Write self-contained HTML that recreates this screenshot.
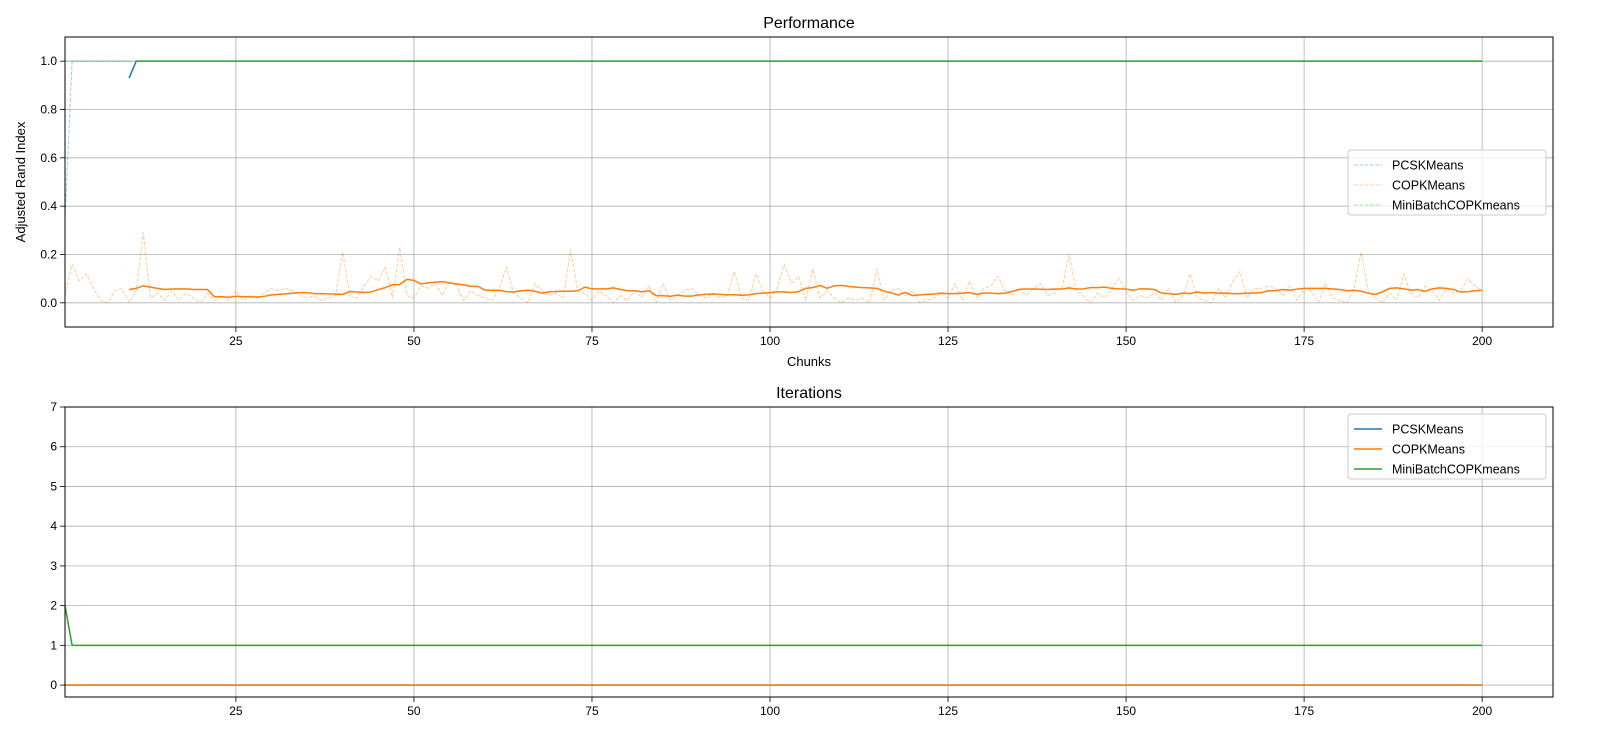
<!DOCTYPE html>
<html><head><meta charset="utf-8">
<style>
html,body{margin:0;padding:0;background:#fff;}
svg{display:block;font-family:"Liberation Sans","DejaVu Sans",sans-serif;}
</style></head>
<body>
<svg id="fig" width="1600" height="750" viewBox="0 0 1600 750"></svg>
<script>
// ---- data ----
const chunks = Array.from({length:200},(_,i)=>i+1);
const pcskRaw = [0.35,1,1,1,1,1,1,1,1,1];
const pcskSmoothX = [10,11];
const pcskSmooth = [0.93,1.0];
const copkRaw = [0.03,0.16,0.09,0.12,0.06,0.01,0.0,0.05,0.06,0.0,0.05,0.29,0.02,0.04,0.01,0.05,0.01,0.04,0.02,0.0,
0.04,0.01,0.03,0.01,0.05,0.01,0.03,0.02,0.04,0.06,0.05,0.06,0.05,0.03,0.02,0.03,0.01,0.02,0.03,0.21,
0.03,0.02,0.07,0.11,0.09,0.15,0.02,0.23,0.03,0.02,0.07,0.06,0.08,0.03,0.09,0.07,0.01,0.05,0.03,0.02,
0.01,0.06,0.15,0.04,0.02,0.0,0.08,0.05,0.03,0.04,0.02,0.22,0.05,0.04,0.01,0.05,0.03,0.0,0.03,0.01,
0.05,0.02,0.07,0.0,0.08,0.01,0.03,0.05,0.06,0.03,0.02,0.04,0.02,0.03,0.13,0.02,0.01,0.12,0.05,0.02,
0.06,0.16,0.08,0.11,0.01,0.14,0.02,0.05,0.02,0.0,0.02,0.01,0.02,0.0,0.14,0.01,0.05,0.06,0.03,0.05,
0.0,0.01,0.02,0.04,0.02,0.08,0.01,0.09,0.02,0.06,0.07,0.11,0.05,0.03,0.06,0.03,0.06,0.08,0.03,0.04,
0.06,0.2,0.05,0.03,0.0,0.04,0.02,0.06,0.1,0.05,0.01,0.03,0.02,0.04,0.01,0.06,0.0,0.03,0.12,0.02,
0.01,0.0,0.06,0.02,0.09,0.13,0.02,0.06,0.06,0.07,0.06,0.03,0.07,0.01,0.06,0.05,0.0,0.08,0.02,0.01,
0.0,0.06,0.21,0.05,0.02,0.0,0.04,0.01,0.12,0.04,0.02,0.07,0.05,0.01,0.06,0.04,0.05,0.1,0.07,0.05];
const copkSmoothStart = 10;
const copkSmooth = [0.055,0.06,0.07,0.065,0.06,0.055,0.057,0.058,0.058,0.055,0.055,0.055,0.025,0.025,0.023,0.027,0.025,0.025,0.024,0.027,
0.033,0.035,0.037,0.04,0.042,0.042,0.038,0.038,0.037,0.036,0.035,0.047,0.045,0.043,0.045,0.055,0.063,0.075,0.076,0.097,
0.093,0.078,0.083,0.085,0.088,0.082,0.078,0.075,0.068,0.068,0.052,0.052,0.052,0.046,0.045,0.05,0.052,0.048,0.04,0.046,
0.047,0.048,0.048,0.05,0.065,0.058,0.058,0.058,0.062,0.055,0.05,0.05,0.046,0.05,0.03,0.03,0.027,0.032,0.028,0.028,
0.033,0.035,0.037,0.035,0.033,0.034,0.031,0.033,0.038,0.04,0.042,0.046,0.045,0.043,0.046,0.06,0.063,0.072,0.06,0.07,
0.072,0.068,0.065,0.063,0.062,0.06,0.048,0.042,0.032,0.043,0.03,0.033,0.035,0.036,0.04,0.038,0.038,0.04,0.042,0.035,
0.04,0.04,0.038,0.04,0.047,0.056,0.057,0.057,0.056,0.055,0.057,0.057,0.062,0.057,0.058,0.063,0.063,0.065,0.06,0.058,
0.057,0.052,0.058,0.058,0.055,0.04,0.038,0.035,0.04,0.038,0.045,0.04,0.042,0.04,0.04,0.038,0.038,0.04,0.04,0.042,
0.05,0.05,0.055,0.052,0.057,0.06,0.06,0.06,0.06,0.058,0.055,0.05,0.052,0.048,0.04,0.035,0.045,0.06,0.062,0.058,
0.052,0.055,0.047,0.058,0.062,0.06,0.055,0.045,0.046,0.05,0.052];
const mbSmoothStart = 11;
const mbSmoothVal = 1.0;
const iterMB = [2].concat(Array(199).fill(1));
const iterCOPK = Array(200).fill(0);
const iterPCSK = Array(200).fill(0);
const xTicks = [25,50,75,100,125,150,175,200];
const yTicksTop = [0.0,0.2,0.4,0.6,0.8,1.0];
const yTicksBot = [0,1,2,3,4,5,6,7];

const C = {blue:'#1f77b4',orange:'#ff7f0e',green:'#2ca02c'};
const NS='http://www.w3.org/2000/svg';
const svg=document.getElementById('fig');
function mk(tag,attrs,parent){const e=document.createElementNS(NS,tag);for(const k in attrs)e.setAttribute(k,attrs[k]);(parent||svg).appendChild(e);return e;}

function makeAxes(top,bottom,ymin,ymax,name){
  const L=65,R=1553,xmin=1,xmax=209.95;
  const g=mk('g',{});
  
  
  const sx=v=>L+(v-xmin)/(xmax-xmin)*(R-L);
  const sy=v=>bottom-(v-ymin)/(ymax-ymin)*(bottom-top);
  return {g,sx,sy,L,R,top,bottom};
}
function drawFrame(ax,yt,fmt){
  const {g,sx,sy,L,R,top,bottom}=ax;
  xTicks.forEach(t=>{
    const x=sx(t);
    const gl=mk('line',{x1:x,x2:x,y1:top,y2:bottom,stroke:'#b0b0b0','stroke-width':0.8},g);
    
    mk('line',{x1:x,x2:x,y1:bottom,y2:bottom+5,stroke:'#000','stroke-width':0.8},g);
    const tx=mk('text',{x:x,y:bottom+18,'font-size':12,'text-anchor':'middle'},g);
    tx.textContent=t;
    
  });
  yt.forEach(t=>{
    const y=sy(t);
    const gl=mk('line',{x1:L,x2:R,y1:y,y2:y,stroke:'#b0b0b0','stroke-width':0.8},g);
    
    mk('line',{x1:L-5,x2:L,y1:y,y2:y,stroke:'#000','stroke-width':0.8},g);
    const tx=mk('text',{x:L-8,y:y+4,'font-size':12,'text-anchor':'end'},g);
    tx.textContent=fmt(t);
    
  });
}
function border(ax){
  const r=mk('rect',{x:ax.L,y:ax.top,width:ax.R-ax.L,height:ax.bottom-ax.top,fill:'none',stroke:'#000','stroke-width':1},ax.g);
  
}
function line(ax,xs,ys,color,opts,name){
  const pts=xs.map((x,i)=>ax.sx(x).toFixed(2)+','+ax.sy(ys[i]).toFixed(2)).join(' ');
  const p=mk('polyline',Object.assign({points:pts,fill:'none',stroke:color,'stroke-width':1.5,'stroke-linejoin':'round'},opts||{}),ax.g);
  
}
function legend(x,y,entries,faint,name){
  const g=mk('g',{});
  
  mk('rect',{x:x,y:y,width:198,height:65,rx:3,fill:'#fff','fill-opacity':0.8,stroke:'#ccc'},g);
  entries.forEach((e,i)=>{
    const yy=y+15+i*20;
    const ln=mk('line',{x1:x+6,x2:x+34,y1:yy,y2:yy,stroke:e[1],'stroke-width':faint?1:1.5,'stroke-opacity':faint?0.4:1,'stroke-dasharray':faint?'3.7,1.6':'none'},g);
    
    const t=mk('text',{x:x+44,y:yy+4.5,'font-size':12.5},g);
    t.textContent=e[0];
    
  });
}
function text(x,y,s,size,name,extra){const t=mk('text',Object.assign({x:x,y:y,'font-size':size,'text-anchor':'middle'},extra||{}));t.textContent=s;return t;}

// ---- top: Performance ----
const a1=makeAxes(37,327,-0.1,1.1,'performance-axes');
drawFrame(a1,yTicksTop,v=>v.toFixed(1));
const faint={'stroke-width':1,'stroke-opacity':0.4,'stroke-dasharray':'3.7,1.6'};
line(a1,chunks.slice(0,pcskRaw.length),pcskRaw,C.blue,faint,'pcsk-raw-line');
line(a1,chunks,copkRaw,C.orange,faint,'copk-raw-line');
line(a1,chunks,chunks.map(()=>1),C.green,faint,'minibatch-raw-line');
line(a1,pcskSmoothX,pcskSmooth,C.blue,{},'pcsk-smooth-line');
line(a1,copkSmooth.map((_,i)=>copkSmoothStart+i),copkSmooth,C.orange,{},'copk-smooth-line');
const mbx=chunks.filter(c=>c>=mbSmoothStart);
line(a1,mbx,mbx.map(()=>mbSmoothVal),C.green,{},'minibatch-smooth-line');
border(a1);
legend(1348,150,[['PCSKMeans',C.blue],['COPKMeans',C.orange],['MiniBatchCOPKmeans',C.green]],true,'performance-legend');
text(809,28,'Performance',16,'performance-title');
text(809,366,'Chunks',13,'x-axis-title');
text(25,182,'Adjusted Rand Index',13,'y-axis-title',{transform:'rotate(-90 25 182)'});

// ---- bottom: Iterations ----
const a2=makeAxes(407,697,-0.3,7,'iterations-axes');
drawFrame(a2,yTicksBot,v=>String(v));
line(a2,chunks,iterPCSK,C.blue,{},'pcsk-iterations-line');
line(a2,chunks,iterMB,C.green,{},'minibatch-iterations-line');
line(a2,chunks,iterCOPK,C.orange,{},'copk-iterations-line');
border(a2);
legend(1348,414,[['PCSKMeans',C.blue],['COPKMeans',C.orange],['MiniBatchCOPKmeans',C.green]],false,'iterations-legend');
text(809,398,'Iterations',16,'iterations-title');
</script>
</body></html>
